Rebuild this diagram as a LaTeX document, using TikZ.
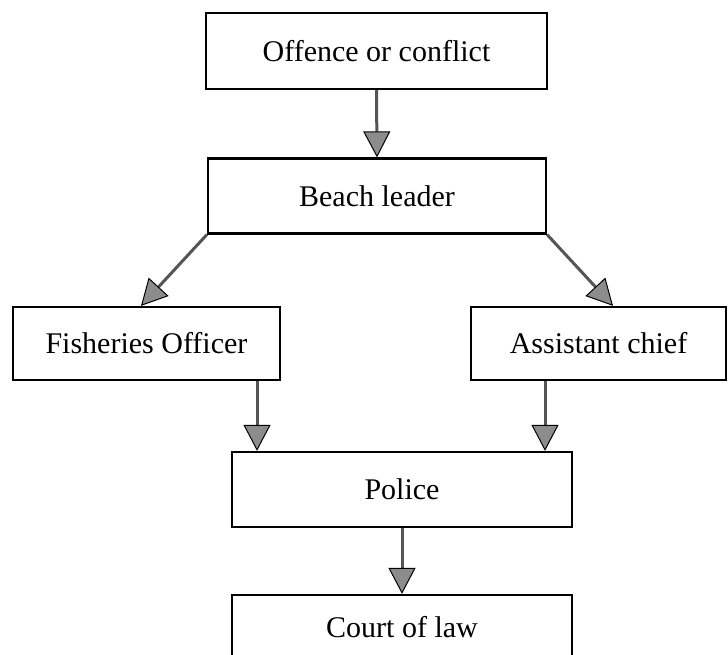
\documentclass[tikz,border=0pt]{standalone}
\usepackage{fontspec}
\setmainfont{Liberation Serif}
\usetikzlibrary{arrows.meta}
\definecolor{tipgray}{RGB}{140,140,140}
\definecolor{shaftgray}{RGB}{85,85,85}
\begin{document}
\begin{tikzpicture}[x=1pt,y=-1pt,
  box/.style={draw=black, line width=2.2pt, fill=white, inner sep=0pt,
    font=\fontsize{30}{34}\selectfont, text=black},
  conn/.style={draw=shaftgray, line width=3pt,
    -{Triangle[width=27pt,length=26pt,fill=tipgray,color=black,line width=1pt]}},
  ]
\useasboundingbox (0,0) rectangle (728,655);
\clip (0,0) rectangle (728,655);
\node[box, minimum width=341pt, minimum height=76pt] (off) at (376.5,51) {Offence or conflict};
\node[box, minimum width=338pt, minimum height=75pt] (beach) at (377,196) {Beach leader};
\node[box, minimum width=267pt, minimum height=73pt] (fish) at (146.5,343.5) {Fisheries Officer};
\node[box, minimum width=255pt, minimum height=73pt] (asst) at (598.5,343.5) {Assistant chief};
\node[box, minimum width=340pt, minimum height=75pt] (pol) at (402,489.5) {Police};
\node[box, minimum width=340pt, minimum height=64pt] (court) at (402,627) {Court of law};
\draw[conn] (off.south) -- (beach.north);
\draw[conn] (beach.south west) -- ([xshift=-5.5pt]fish.north);
\draw[conn] (beach.south east) -- ([xshift=14.5pt]asst.north);
\draw[conn] ([xshift=110.5pt]fish.south) -- ([xshift=-145pt]pol.north);
\draw[conn] ([xshift=-53.5pt]asst.south) -- ([xshift=143pt]pol.north);
\draw[conn] (pol.south) -- (court.north);
\end{tikzpicture}
\end{document}
